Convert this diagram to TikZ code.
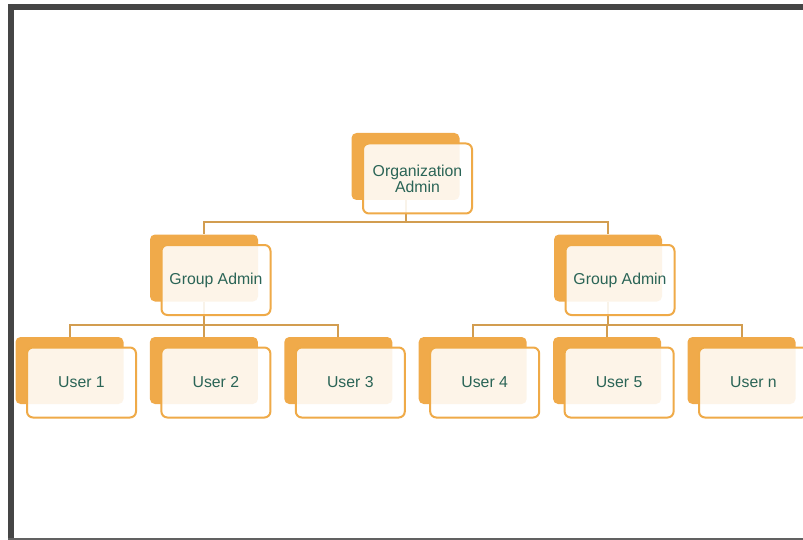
\documentclass[tikz,border=0pt]{standalone}
\usepackage{fontspec}
\setmainfont{Liberation Sans}
\pgfdeclarelayer{background}
\pgfsetlayers{background,main}
\definecolor{frameGray}{HTML}{454545}
\definecolor{tabOrange}{HTML}{F0AA4A}
\definecolor{edgeOrange}{HTML}{EFAA48}
\definecolor{linkTan}{HTML}{D29D50}
\definecolor{labelTeal}{HTML}{2A6456}
\tikzset{
  tab/.style={fill=tabOrange, rounded corners=5pt, minimum width=108pt,
    minimum height=67pt, inner sep=0pt},
  card/.style={draw=edgeOrange, line width=2pt, fill=white, fill opacity=0.88,
    text opacity=1, rounded corners=6pt, minimum width=109pt, minimum height=70pt,
    inner sep=0pt, text=labelTeal, align=center,
    font=\fontsize{15.8}{16}\selectfont},
  link/.style={draw=linkTan, line width=2pt},
}
\begin{document}
\begin{tikzpicture}[x=1pt,y=-1pt]
\clip (0,0) rectangle (803,540);

% organization level
\node[tab] (orgb) at (405.5,166.5) {};
\node[card] (org) at ([shift={(12,12)}]orgb.center) {Organization\\Admin};

% group level
\node[tab] (gab1) at (204,268) {};
\node[card] (ga1) at ([shift={(12,12)}]gab1.center) {Group Admin};
\node[tab] (gab2) at (608,268) {};
\node[card] (ga2) at ([shift={(12,12)}]gab2.center) {Group Admin};

% user level
\foreach \i/\x/\t in {1/69.5/User 1, 2/203.9/User 2, 3/338.3/User 3,
                      4/472.7/User 4, 5/607.1/User 5, 6/741.5/User n}{
  \node[tab] (ub\i) at (\x,370.5) {};
  \node[card] (u\i) at ([shift={(12,12)}]ub\i.center) {\t};
}

% page, frame and tree links, all behind the cards
\begin{pgfonlayer}{background}
  \fill[white] (0,0) rectangle (803,540);
  \fill[frameGray] (8,4) rectangle (14,540);
  \fill[frameGray] (8,4) rectangle (803,10);
  \fill[frameGray!85] (8,538) rectangle (803,540);

  \coordinate (busTop) at ([yshift=-22pt]orgb.south);
  \draw[link] (orgb.south) -- (busTop);
  \draw[link] (busTop) -| (gab1.north);
  \draw[link] (busTop) -| (gab2.north);

  \coordinate (busL) at ([yshift=-23pt]gab1.south);
  \draw[link] (gab1.south) -- (busL);
  \draw[link] (busL) -| (ub1.north);
  \draw[link] (busL) -| (ub2.north);
  \draw[link] (busL) -| (ub3.north);

  \coordinate (busR) at ([yshift=-23pt]gab2.south);
  \draw[link] (gab2.south) -- (busR);
  \draw[link] (busR) -| (ub4.north);
  \draw[link] (busR) -| (ub5.north);
  \draw[link] (busR) -| (ub6.north);
\end{pgfonlayer}
\end{tikzpicture}
\end{document}
